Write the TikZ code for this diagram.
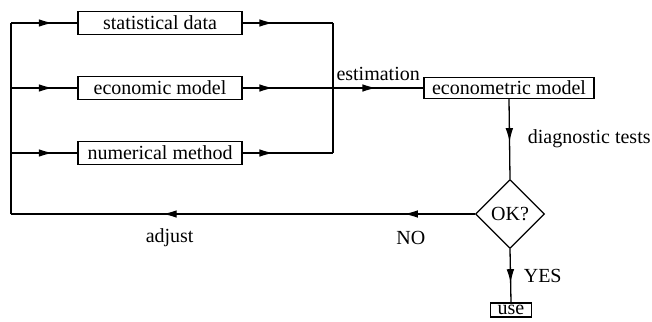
\documentclass[tikz,border=0pt]{standalone}
\usepackage{fontspec}
\setmainfont{Liberation Serif}
\usetikzlibrary{arrows.meta, decorations.markings, shapes.geometric}

\begin{document}
\begin{tikzpicture}[x=0.5pt, y=-0.5pt, line width=0.65pt,
    font=\fontsize{10}{12}\selectfont,
    box/.style={draw, inner sep=0pt, minimum height=11.5pt},
    arrowat/.style={postaction={decorate, decoration={markings,
        mark=at position #1 with {\arrow{Latex[length=7pt, width=3.8pt]}}}}}]
    \useasboundingbox (0,0) rectangle (652,321);

    % Eingaben
    \node[box, minimum width=82pt] (stat)  at (160,23)  {statistical data};
    \node[box, minimum width=82pt] (econ)  at (160,88)  {economic model};
    \node[box, minimum width=82pt] (numer) at (160,153) {numerical method};

    % Modell und Test
    \node[box, minimum width=85pt, minimum height=10.5pt] (emodel) at (509,88) {econometric model};
    \node[draw, diamond, aspect=1, inner sep=0pt, minimum size=34.5pt] (ok) at (510,214) {OK?};
    \node[box, minimum width=20.5pt, minimum height=7pt] (use) at (511,310) {use};

    % Hilfspunkte
    \coordinate (ltop) at (11,23);
    \coordinate (lmid) at (11,88);
    \coordinate (lbot) at (11,153);
    \coordinate (fb)   at (11,214);
    \coordinate (rtop) at (333,23);
    \coordinate (rmid) at (333,88);
    \coordinate (rbot) at (333,153);

    % linke Zweige
    \draw (fb) -- (ltop);
    \draw[arrowat=0.63] (ltop) -- (stat.west);
    \draw[arrowat=0.63] (lmid) -- (econ.west);
    \draw[arrowat=0.63] (lbot) -- (numer.west);

    % rechte Zweige
    \draw[arrowat=0.34] (stat.east) -- (rtop);
    \draw[arrowat=0.34] (econ.east) -- (rmid);
    \draw[arrowat=0.34] (numer.east) -- (rbot);
    \draw (rtop) -- (rbot);

    % Schaetzung und Test
    \draw[arrowat=0.48] (rmid) -- (emodel.west) node[midway, above] {estimation};
    \draw[arrowat=0.54] (emodel.south) -- (ok.north) node[midway, right=5.5pt] {diagnostic tests};
    \draw[arrowat=0.64] (ok.south) -- (use.north) node[midway, right=3pt] {YES};

    % Rueckkopplung
    \draw[arrowat=0.153, arrowat=0.673] (ok.west) -- (fb)
        node[pos=0.138, yshift=-12pt] {NO}
        node[pos=0.658, yshift=-12pt] {adjust};
\end{tikzpicture}
\end{document}
